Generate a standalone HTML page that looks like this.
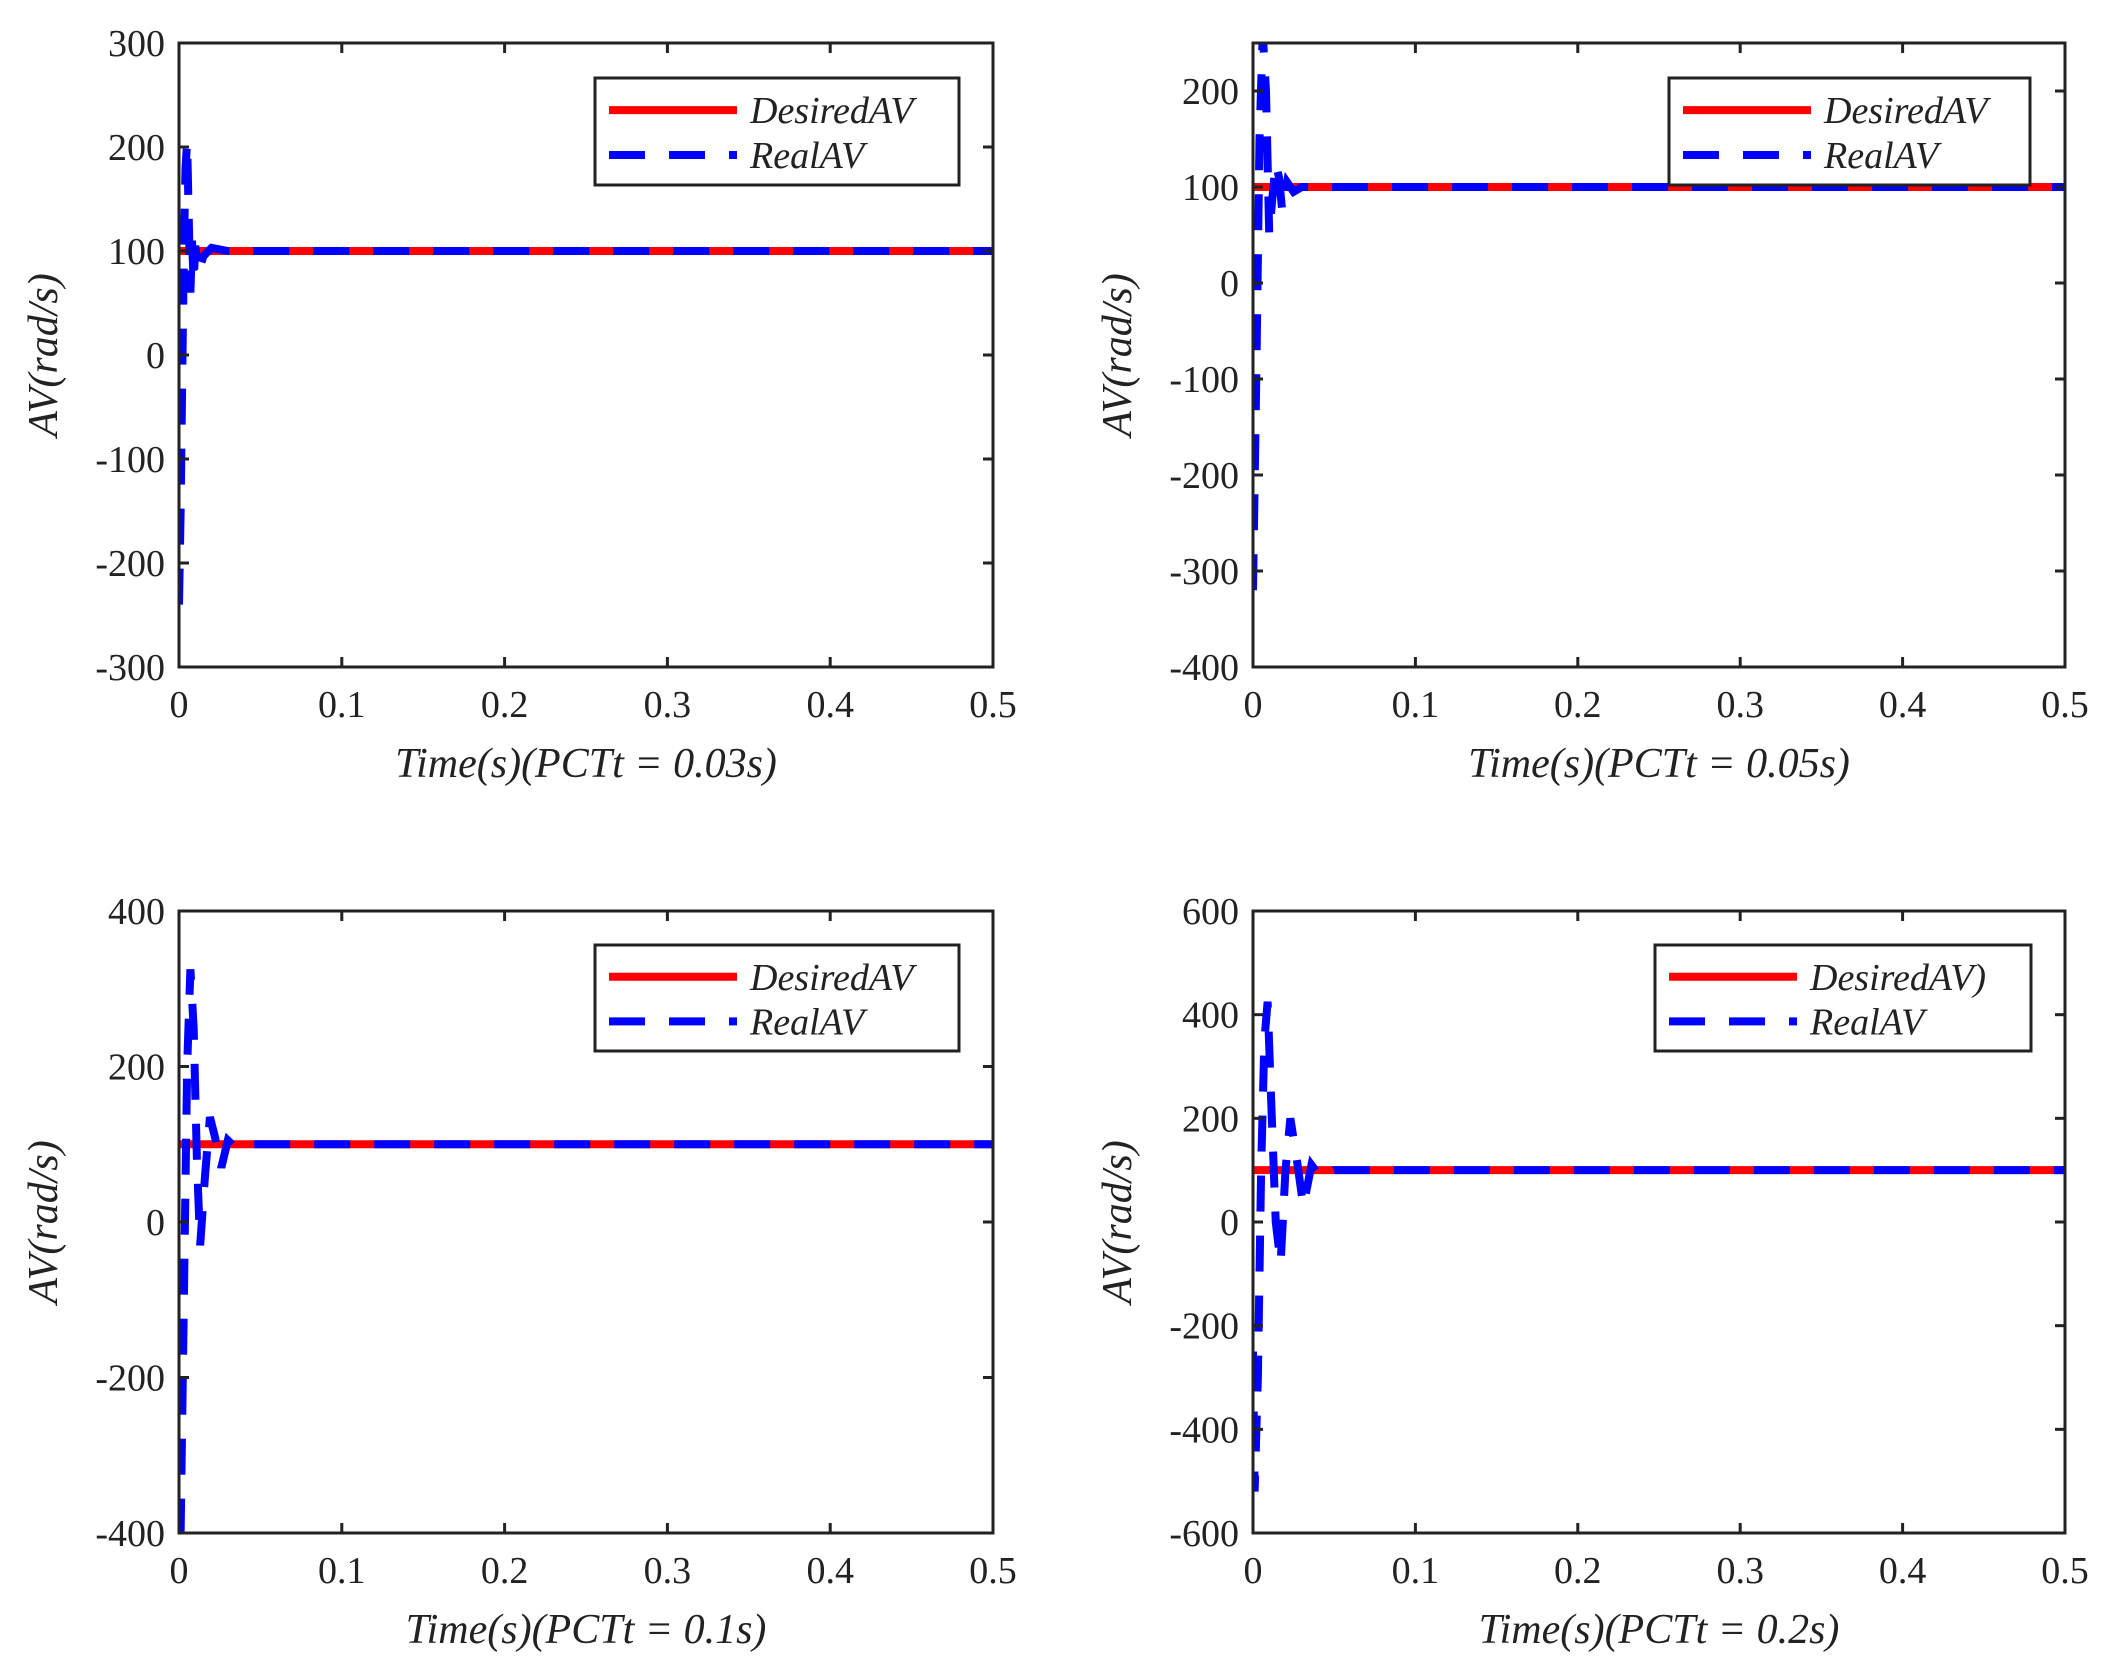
<!DOCTYPE html>
<html><head><meta charset="utf-8"><style>
body{margin:0;background:#fff;}
svg{display:block;}
text{font-family:"Liberation Serif","DejaVu Serif",serif;fill:#222;}
</style></head><body>
<svg id="fig" width="2116" height="1676" viewBox="0 0 2116 1676" xmlns="http://www.w3.org/2000/svg"></svg>
<script>
// Panel 1 data (PCTt = 0.03s)
const p1Time = [0, 0.001, 0.002, 0.003, 0.004, 0.005, 0.006, 0.007, 0.008, 0.009, 0.010, 0.012, 0.015, 0.02, 0.03, 0.5];
const p1Real = [-240, -150, -20, 100, 180, 205, 130, 60, 110, 70, 105, 80, 95, 103, 100, 100];
// Panel 2 data (PCTt = 0.05s)
const p2Time = [0, 0.002, 0.004, 0.006, 0.008, 0.010, 0.012, 0.014, 0.016, 0.018, 0.021, 0.025, 0.03, 0.5];
const p2Real = [-320, -100, 150, 260, 200, 50, 90, 125, 110, 75, 105, 95, 100, 100];
// Panel 3 data (PCTt = 0.1s)
const p3Time = [0, 0.001, 0.003, 0.005, 0.007, 0.009, 0.011, 0.013, 0.016, 0.019, 0.022, 0.026, 0.03, 0.035, 0.045, 0.5];
const p3Real = [-400, -400, -100, 200, 325, 250, 80, -30, 60, 135, 110, 70, 105, 95, 100, 100];
// Panel 4 data (PCTt = 0.2s)
const p4Time = [0, 0.001, 0.003, 0.005, 0.007, 0.009, 0.011, 0.014, 0.017, 0.02, 0.023, 0.027, 0.031, 0.036, 0.042, 0.05, 0.5];
const p4Real = [-250, -520, -300, 100, 350, 425, 250, 0, -80, 100, 200, 120, 30, 110, 85, 100, 100];
const desiredValue = 100;
const xTicks = [0, 0.1, 0.2, 0.3, 0.4, 0.5];
const yTicks1 = [-300, -200, -100, 0, 100, 200, 300];
const yTicks2 = [-400, -300, -200, -100, 0, 100, 200];
const yTicks3 = [-400, -200, 0, 200, 400];
const yTicks4 = [-600, -400, -200, 0, 200, 400, 600];
const xLabels = ["Time(s)(PCTt = 0.03s)", "Time(s)(PCTt = 0.05s)", "Time(s)(PCTt = 0.1s)", "Time(s)(PCTt = 0.2s)"];
const desiredNames = ["DesiredAV", "DesiredAV", "DesiredAV", "DesiredAV)"];

const panels = [
  {x0:179,x1:993,y0:43,y1:667,ymin:-300,ymax:300,ticks:yTicks1,t:p1Time,v:p1Real,leg:[595,78,959,185]},
  {x0:1253,x1:2065,y0:43,y1:667,ymin:-400,ymax:250,ticks:yTicks2,t:p2Time,v:p2Real,leg:[1669,78,2030,185]},
  {x0:179,x1:993,y0:911,y1:1533,ymin:-400,ymax:400,ticks:yTicks3,t:p3Time,v:p3Real,leg:[595,945,959,1051]},
  {x0:1253,x1:2065,y0:911,y1:1533,ymin:-600,ymax:600,ticks:yTicks4,t:p4Time,v:p4Real,leg:[1655,945,2031,1051]}
];
const NS="http://www.w3.org/2000/svg";
const svg=document.getElementById('fig');
function mk(tag,attrs,parent){const e=document.createElementNS(NS,tag);for(const k in attrs)e.setAttribute(k,attrs[k]);(parent||svg).appendChild(e);return e;}

panels.forEach((p,i)=>{
  const g=mk('g',{});
  
  
  const sx=t=>p.x0+(t-0)/(0.5-0)*(p.x1-p.x0);
  const sy=v=>p.y1-(v-p.ymin)/(p.ymax-p.ymin)*(p.y1-p.y0);
  const cp=mk('clipPath',{id:'clip'+i},g);
  mk('rect',{x:p.x0,y:p.y0,width:p.x1-p.x0,height:p.y1-p.y0},cp);
  const d=mk('line',{x1:sx(0),x2:sx(0.5),y1:sy(desiredValue),y2:sy(desiredValue),stroke:'#ff0000','stroke-width':8,'clip-path':'url(#clip'+i+')'},g);
  
  
  const pts=p.t.map((t,k)=>sx(t)+','+sy(p.v[k])).join(' ');
  const r=mk('polyline',{points:pts,fill:'none',stroke:'#0000ff','stroke-width':8,'stroke-dasharray':'36 24','clip-path':'url(#clip'+i+')'},g);
  
  
  const b=mk('rect',{x:p.x0,y:p.y0,width:p.x1-p.x0,height:p.y1-p.y0,fill:'none',stroke:'#222','stroke-width':3},g);
  
  
  xTicks.forEach(t=>{
    const x=sx(t);
    mk('line',{x1:x,x2:x,y1:p.y1,y2:p.y1-10,stroke:'#222','stroke-width':3},g);
    mk('line',{x1:x,x2:x,y1:p.y0,y2:p.y0+10,stroke:'#222','stroke-width':3},g);
    const tx=mk('text',{x:x,y:p.y1+50,'text-anchor':'middle','font-size':38},g);
    tx.textContent=t;
    
    
  });
  p.ticks.forEach(v=>{
    const y=sy(v);
    mk('line',{x1:p.x0,x2:p.x0+10,y1:y,y2:y,stroke:'#222','stroke-width':3},g);
    mk('line',{x1:p.x1,x2:p.x1-10,y1:y,y2:y,stroke:'#222','stroke-width':3},g);
    const ty=mk('text',{x:p.x0-14,y:y+13,'text-anchor':'end','font-size':38},g);
    ty.textContent=v;
    
    
  });
  const xl=mk('text',{x:(p.x0+p.x1)/2,y:p.y1+110,'text-anchor':'middle','font-size':42,'font-style':'italic'},g);
  xl.textContent=xLabels[i];
  
  
  const cy=(p.y0+p.y1)/2;
  const yl=mk('text',{x:0,y:0,'text-anchor':'middle','font-size':42,'font-style':'italic',transform:`translate(${p.x0-122},${cy}) rotate(-90)`},g);
  yl.textContent='AV(rad/s)';
  
  
  const [lx0,ly0,lx1,ly1]=p.leg;
  const lg=mk('g',{},g);
  
  
  mk('rect',{x:lx0,y:ly0,width:lx1-lx0,height:ly1-ly0,fill:'#fff',stroke:'#222','stroke-width':3},lg);
  const r1=ly0+(ly1-ly0)*0.3, r2=ly0+(ly1-ly0)*0.72;
  mk('line',{x1:lx0+14,x2:lx0+142,y1:r1,y2:r1,stroke:'#ff0000','stroke-width':8},lg);
  mk('line',{x1:lx0+14,x2:lx0+142,y1:r2,y2:r2,stroke:'#0000ff','stroke-width':8,'stroke-dasharray':'36 24'},lg);
  const e1=mk('text',{x:lx0+155,y:r1+13,'font-size':38,'font-style':'italic'},lg);
  e1.textContent=desiredNames[i];
  
  
  const e2=mk('text',{x:lx0+155,y:r2+13,'font-size':38,'font-style':'italic'},lg);
  e2.textContent='RealAV';
  
  
});
</script>
</body></html>
